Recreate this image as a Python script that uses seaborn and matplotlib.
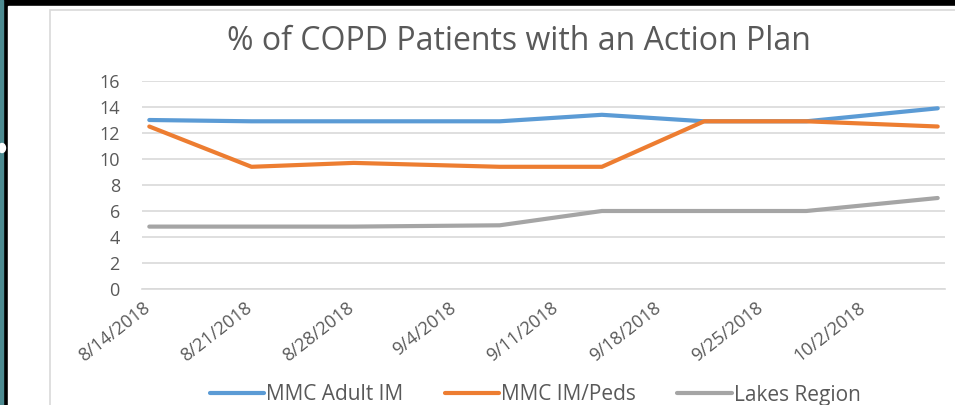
import numpy as np
import pandas as pd
import matplotlib
matplotlib.use("Agg")
import matplotlib.pyplot as plt
import matplotlib.dates as mdates
from matplotlib.patches import Rectangle, Ellipse
import seaborn as sns

# data (weekly points, Excel date axis)
DATES = ["2018-08-14", "2018-08-21", "2018-08-28", "2018-09-07",
         "2018-09-14", "2018-09-21", "2018-09-28", "2018-10-07"]
ADULT_IM = [13.0, 12.9, 12.9, 12.9, 13.4, 12.9, 12.9, 13.9]
IM_PEDS  = [12.5, 9.4, 9.7, 9.4, 9.4, 12.9, 12.9, 12.5]
LAKES    = [4.8, 4.8, 4.8, 4.9, 6.0, 6.0, 6.0, 7.0]
SERIES   = ["MMC Adult IM", "MMC IM/Peds", "Lakes Region"]
TICKS    = ["2018-08-14", "2018-08-21", "2018-08-28", "2018-09-04",
            "2018-09-11", "2018-09-18", "2018-09-25", "2018-10-02"]
COLORS   = ["#5b9bd5", "#ed7d31", "#a5a5a5"]

# excel centres each point in its day bin
x = pd.to_datetime(DATES) + pd.Timedelta(hours=12)
df = pd.concat([
    pd.DataFrame({"date": x, "value": v, "series": s})
    for s, v in zip(SERIES, [ADULT_IM, IM_PEDS, LAKES])
])

sns.set_style("white")
plt.rcParams["font.family"] = ["Open Sans", "DejaVu Sans"]

fig = plt.figure(figsize=(9.55, 4.05), dpi=100, facecolor="black")
W, H = 955, 405
# screenshot framing: teal strip, black band, white panel, light chart border
fig.patches.append(Rectangle((0, 0), 3 / W, 1, transform=fig.transFigure,
                             color="#4d8b91", zorder=-3))
fig.patches.append(Rectangle((8 / W, 0), 1, 1 - 6 / H, transform=fig.transFigure,
                             color="white", zorder=-3))
fig.patches.append(Rectangle((50 / W, -0.1), 1, 1.1 - 10 / H, transform=fig.transFigure,
                             fill=False, ec="#d9d9d9", lw=1.2, zorder=-2))
fig.patches.append(Ellipse((2 / W, 1 - 148 / H), 7 / W, 9 / H, transform=fig.transFigure,
                           color="white", zorder=-2))

ax = fig.add_axes([142 / W, 1 - 289 / H, 803 / W, 208 / H])
ax.set_zorder(2)
ax.set_facecolor("none")
sns.lineplot(data=df, x="date", y="value", hue="series", palette=COLORS,
             linewidth=3, ax=ax, legend=False)

ax.set_xlim(pd.Timestamp("2018-08-14"), pd.Timestamp("2018-10-08"))
ax.set_ylim(0, 16)
ax.set_yticks(range(0, 17, 2))
ax.set_xticks(pd.to_datetime(TICKS))
ax.xaxis.set_major_formatter(mdates.DateFormatter("%-m/%-d/%Y"))
ax.grid(axis="y", color="#d9d9d9", lw=1.2)
ax.set_axisbelow(True)
for sp in ["top", "right", "left"]:
    ax.spines[sp].set_visible(False)
ax.spines["bottom"].set_color("#d9d9d9")
ax.spines["bottom"].set_linewidth(1.2)
ax.tick_params(axis="x", length=5, color="#d9d9d9", width=1.2,
               labelsize=13, labelcolor="#595959", pad=2)
ax.tick_params(axis="y", length=0, labelsize=13, labelcolor="#595959", pad=16)
for lab in ax.get_xticklabels():
    lab.set_rotation(38)
    lab.set_ha("right")
    lab.set_rotation_mode("anchor")
ax.set_xlabel("")
ax.set_ylabel("")

fig.text(519 / W, 1 - 42 / H, "% of COPD Patients with an Action Plan",
         ha="center", va="center", fontsize=23, color="#595959")

handles = [plt.Line2D([], [], color=c, lw=3) for c in COLORS]
fig.legend(handles, SERIES, loc="center", bbox_to_anchor=(535 / W, 1 - 395 / H),
           ncol=3, frameon=False, fontsize=15, labelcolor="#595959",
           handlelength=2.6, handletextpad=0.1, columnspacing=2.0)

fig.savefig("out.png", dpi=100, facecolor="black")
